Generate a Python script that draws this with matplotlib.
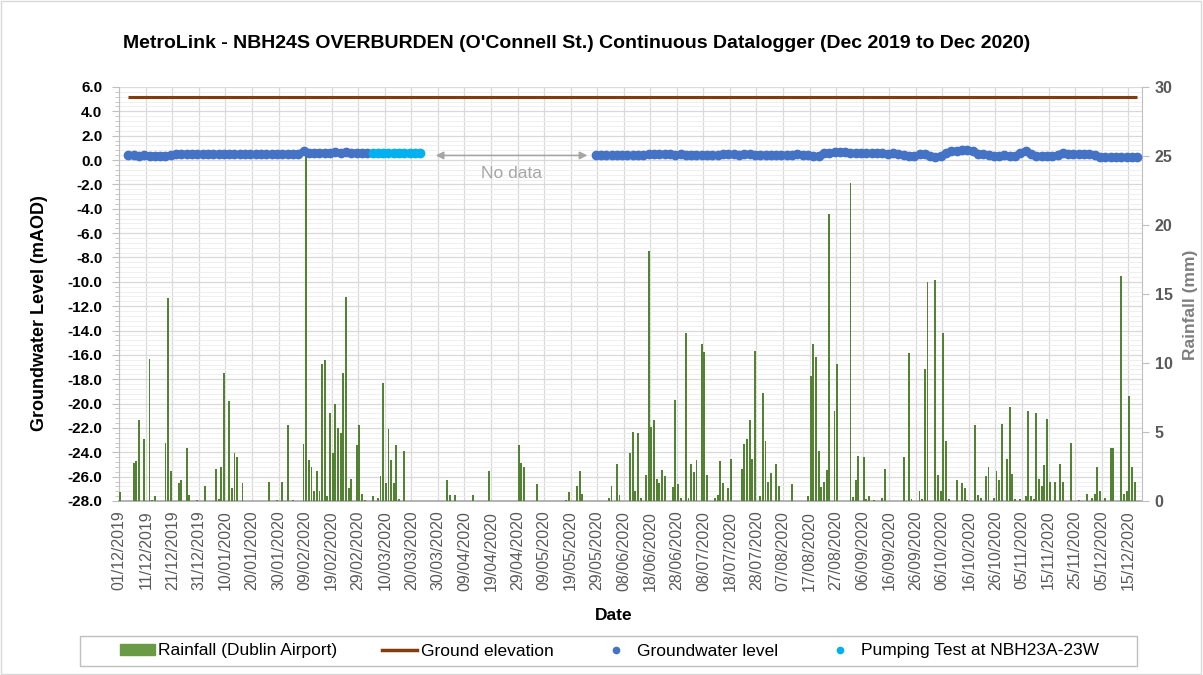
import matplotlib
matplotlib.use('Agg')
import matplotlib.pyplot as plt
import numpy as np
from matplotlib.lines import Line2D
from matplotlib.patches import Patch, Rectangle
from matplotlib.ticker import MultipleLocator, FuncFormatter

plt.rcParams['font.family'] = ['Liberation Sans', 'DejaVu Sans']
plt.rcParams['axes.unicode_minus'] = False

# ---------------- data (days counted from 01/12/2019) ----------------
rain_day = [0, 5, 6, 7, 9, 11, 12, 13, 17, 18, 19, 22, 23, 25, 26, 29, 32, 36, 37, 38,
            39, 41, 42, 43, 44, 46, 56, 59, 61, 63, 65, 69, 70, 71, 72, 73, 74, 75, 76, 77,
            78, 79, 80, 81, 82, 83, 84, 85, 86, 87, 89, 90, 91, 92, 95, 97, 98, 99, 100, 101,
            102, 103, 104, 105, 107, 123, 124, 126, 133, 139, 150, 151, 152, 157, 168, 169, 172, 173, 174, 184,
            185, 187, 188, 192, 193, 194, 195, 196, 198, 199, 200, 201, 202, 203, 204, 205, 208, 209, 210, 211,
            213, 214, 215, 216, 217, 219, 220, 221, 224, 225, 226, 227, 229, 230, 234, 235, 236, 237, 238, 239,
            241, 242, 243, 244, 245, 247, 248, 253, 259, 260, 261, 262, 263, 264, 265, 266, 267, 269, 270, 275,
            276, 277, 278, 280, 281, 282, 284, 287, 288, 295, 297, 298, 301, 302, 303, 304, 307, 308, 309, 310,
            311, 312, 315, 317, 318, 319, 322, 323, 324, 326, 327, 329, 330, 331, 332, 334, 335, 336, 337, 339,
            341, 342, 343, 344, 345, 346, 347, 348, 349, 350, 352, 354, 355, 358, 361, 364, 366, 367, 368, 369,
            371, 373, 374, 377, 378, 379, 380, 381, 382]
rain_mm = [0.65, 2.78, 2.87, 5.87, 4.52, 10.3, 0.05, 0.34, 4.23, 14.7, 2.17, 1.30, 1.50, 3.84, 0.43, 0.05, 1.11, 2.29, 0.14, 2.49,
           9.28, 7.25, 0.92, 3.45, 3.16, 1.30, 1.40, 0.05, 1.40, 5.48, 0.05, 4.13, 25.5, 2.97, 2.49, 0.72, 2.17, 0.72, 9.93, 10.2,
           0.34, 6.35, 3.45, 7.03, 5.29, 4.90, 9.28, 14.76, 0.92, 1.59, 4.03, 5.48, 0.53, 0.05, 0.34, 0.24, 1.79, 8.57, 1.30, 5.19,
           2.97, 1.30, 4.03, 0.14, 3.65, 1.50, 0.43, 0.43, 0.43, 2.17, 4.03, 2.78, 2.49, 1.21, 0.05, 0.63, 1.11, 2.17, 0.53, 0.24,
           1.11, 2.68, 0.43, 3.45, 5.00, 0.72, 4.90, 0.24, 1.88, 18.1, 5.39, 5.87, 1.59, 1.30, 2.27, 1.79, 1.01, 7.32, 1.21, 0.24,
           12.15, 0.24, 2.68, 2.08, 2.97, 11.38, 10.8, 1.88, 0.24, 0.43, 2.87, 1.30, 0.92, 3.07, 2.29, 4.13, 4.52, 5.87, 3.07, 10.9,
           0.34, 7.80, 4.32, 1.40, 2.00, 2.68, 1.11, 1.21, 0.34, 9.06, 11.38, 10.41, 3.65, 1.01, 1.40, 2.27, 20.8, 6.55, 9.93, 23.07,
           0.30, 1.50, 3.26, 3.16, 0.14, 0.34, 0.05, 0.24, 2.29, 3.16, 10.7, 0.14, 0.72, 0.14, 9.54, 15.85, 16.0, 1.88, 0.72, 12.15,
           4.32, 0.14, 1.50, 1.30, 0.92, 0.05, 5.48, 0.43, 0.24, 1.79, 2.49, 0.24, 2.17, 1.50, 5.58, 3.07, 6.84, 1.98, 0.14, 0.14,
           0.34, 6.55, 0.34, 0.14, 6.35, 1.59, 1.11, 2.58, 5.97, 1.40, 1.40, 2.68, 1.40, 4.23, 0.05, 0.53, 0.24, 0.53, 2.49, 0.72,
           0.24, 3.84, 3.84, 16.3, 0.53, 0.72, 7.61, 2.49, 1.40]

# groundwater level readings (mAOD), every 2nd day
gw1_day = np.arange(3, 94, 2)
gw1_level = [0.40, 0.38, 0.36, 0.38, 0.36,
             0.34, 0.36, 0.35, 0.40,
             0.48, 0.50, 0.52, 0.50, 0.52, 0.50, 0.52, 0.50, 0.50, 0.52, 0.50,
             0.48, 0.46, 0.48, 0.50, 0.48, 0.50, 0.48, 0.50, 0.52, 0.50, 0.52, 0.50, 0.52,
             0.72, 0.62, 0.60, 0.62, 0.60, 0.62, 0.64, 0.62, 0.64, 0.62, 0.60, 0.62, 0.58]
pump_day = np.arange(95, 114, 2)
pump_level = [0.55, 0.56, 0.55, 0.54, 0.55, 0.56, 0.55, 0.54, 0.55, 0.55]
gw2_day = np.arange(179, 384, 2)
gw2_level = [0.38, 0.38, 0.40, 0.38, 0.38, 0.40, 0.38, 0.40, 0.38, 0.40,
             0.50, 0.48, 0.50, 0.48, 0.46,
             0.44, 0.46, 0.44, 0.45, 0.44,
             0.42, 0.40, 0.42, 0.40, 0.46,
             0.48, 0.46, 0.45, 0.47, 0.46, 0.44, 0.45, 0.43, 0.42, 0.42, 0.44, 0.42, 0.43, 0.46, 0.45, 0.40, 0.30, 0.35,
             0.58, 0.62, 0.66, 0.65, 0.68, 0.62, 0.58, 0.58, 0.56, 0.55, 0.55, 0.56, 0.52, 0.54, 0.50,
             0.40, 0.32, 0.35, 0.48, 0.46, 0.32, 0.28, 0.35,
             0.58, 0.72, 0.78, 0.80, 0.82, 0.72,
             0.50, 0.46, 0.42, 0.35, 0.30, 0.42, 0.35, 0.30,
             0.60, 0.78, 0.50, 0.36, 0.32, 0.35, 0.30, 0.45,
             0.62, 0.52, 0.50, 0.50, 0.52, 0.48, 0.45,
             0.22, 0.25, 0.24, 0.26, 0.24, 0.23, 0.26, 0.28]
ground_elev_day = [3, 383]
ground_elev = [5.15, 5.15]

nodata_span = [119.2, 176.3]
nodata_level = 0.38

tick_labels = ['01/12/2019', '11/12/2019', '21/12/2019', '31/12/2019', '10/01/2020', '20/01/2020',
               '30/01/2020', '09/02/2020', '19/02/2020', '29/02/2020', '10/03/2020', '20/03/2020',
               '30/03/2020', '09/04/2020', '19/04/2020', '29/04/2020', '09/05/2020', '19/05/2020',
               '29/05/2020', '08/06/2020', '18/06/2020', '28/06/2020', '08/07/2020', '18/07/2020',
               '28/07/2020', '07/08/2020', '17/08/2020', '27/08/2020', '06/09/2020', '16/09/2020',
               '26/09/2020', '06/10/2020', '16/10/2020', '26/10/2020', '05/11/2020', '15/11/2020',
               '25/11/2020', '05/12/2020', '15/12/2020']

# ---------------- styling ----------------
OFFSET = 0.4  # daily values sit just right of the date tick
C_RAIN = '#548235'
C_GROUND = '#843C0C'
C_GW = '#4472C4'
C_PUMP = '#00B0F0'
C_GRID = '#D9D9D9'
C_TXT = '#595959'

W, H = 1203, 675
fig = plt.figure(figsize=(W / 100, H / 100), dpi=100)
fig.patch.set_facecolor('white')
fig.add_artist(Rectangle((0.001, 0.001), 0.997, 0.997, transform=fig.transFigure,
                         fill=False, edgecolor='#D9D9D9', lw=1))

pos = [119 / W, 1 - 501 / H, (1142 - 119) / W, (501 - 87) / H]
ax = fig.add_axes(pos)
ax2 = ax.twinx()
ax3 = ax.twinx()

XMIN, XMAX = -0.1, 385.2
for a in (ax, ax2, ax3):
    a.set_xlim(XMIN, XMAX)

# left axis (grid)
ax.set_ylim(-28, 6)
ax.yaxis.set_major_locator(MultipleLocator(2))
ax.yaxis.set_minor_locator(MultipleLocator(0.4))
ax.yaxis.set_major_formatter(FuncFormatter(lambda v, p: f'{v:.1f}'))
ax.grid(True, which='major', axis='y', color=C_GRID, lw=0.9)
ax.grid(True, which='minor', axis='y', color='#EFEFEF', lw=0.7)
ax.grid(True, which='major', axis='x', color=C_GRID, lw=0.9)
ax.set_axisbelow(True)
ax.set_xticks(np.arange(len(tick_labels)) * 10)
ax.set_xticklabels(tick_labels, rotation=90, fontsize=11.5, color=C_TXT)
ax.tick_params(axis='x', length=0, pad=7)
ax.tick_params(axis='y', which='major', length=5, color='#BFBFBF', labelsize=11, pad=7)
ax.tick_params(axis='y', which='minor', length=3, color='#BFBFBF')
for lbl in ax.get_yticklabels():
    lbl.set_fontweight('bold')
for s in ['top', 'right']:
    ax.spines[s].set_visible(False)
ax.spines['left'].set_color('#BFBFBF')
ax.spines['bottom'].set_color('#A6A6A6')
ax.spines['bottom'].set_linewidth(1.2)

# right axis: rainfall
ax2.bar(np.array(rain_day) + OFFSET, rain_mm, width=0.72, color=C_RAIN, lw=0)
ax2.set_ylim(0, 30)
ax2.yaxis.set_major_locator(MultipleLocator(5))
ax2.tick_params(axis='y', length=5, color='#BFBFBF', labelsize=11.5, labelcolor=C_TXT, pad=4)
for lbl in ax2.get_yticklabels():
    lbl.set_fontweight('bold')
for s in ['top', 'left', 'bottom']:
    ax2.spines[s].set_visible(False)
ax2.spines['right'].set_color('#BFBFBF')

# overlay axis: levels
ax3.set_ylim(-28, 6)
ax3.axis('off')
ax3.plot(np.array(ground_elev_day) + OFFSET, ground_elev, color=C_GROUND, lw=2.2, solid_capstyle='butt')
for d, v, c in ((gw1_day, gw1_level, C_GW), (gw2_day, gw2_level, C_GW), (pump_day, pump_level, C_PUMP)):
    ax3.plot(d + OFFSET, v, ls='-', lw=4.5, marker='o', ms=6, color=c, mec=c,
             solid_capstyle='round', solid_joinstyle='round')
ax3.annotate('', xy=(nodata_span[1], nodata_level), xytext=(nodata_span[0], nodata_level),
             arrowprops=dict(arrowstyle='<|-|>', color='#A6A6A6', lw=1.2, mutation_scale=11,
                             shrinkA=0, shrinkB=0))
ax3.text((nodata_span[0] + nodata_span[1]) / 2, -1.1, 'No data', color='#A6A6A6',
         fontsize=12.5, ha='center', va='center')

# titles and labels
fig.text(577 / W, 1 - 43 / H,
         "MetroLink - NBH24S OVERBURDEN (O'Connell St.) Continuous Datalogger (Dec 2019 to Dec 2020)",
         fontsize=14, fontweight='bold', ha='center', va='center')
fig.text(40 / W, 1 - 313 / H, 'Groundwater Level (mAOD)', rotation=90, fontsize=13,
         fontweight='bold', ha='center', va='center')
fig.text(1190 / W, 1 - 305 / H, 'Rainfall (mm)', rotation=90, fontsize=12.5,
         fontweight='bold', ha='center', va='center', color='#7F7F7F')
fig.text(614 / W, 1 - 615 / H, 'Date', fontsize=12.5, fontweight='bold', ha='center', va='center')

# legend
fig.add_artist(Rectangle((80 / W, 1 - 666 / H), (1137 - 80) / W, 30 / H, transform=fig.transFigure,
                         fill=False, edgecolor='#BFBFBF', lw=1))
handles = [Patch(facecolor='#6A9A45', edgecolor='#6A9A45'),
           Line2D([], [], color=C_GROUND, lw=2.5),
           Line2D([], [], ls='none', marker='o', ms=4.5, color=C_GW),
           Line2D([], [], ls='none', marker='o', ms=4.5, color=C_PUMP)]
labels = ['Rainfall (Dublin Airport)', 'Ground elevation', 'Groundwater level', 'Pumping Test at NBH23A-23W']
fig.legend(handles, labels, loc='center left', ncol=4, frameon=False,
           bbox_to_anchor=(120 / W, 1 - 651 / H),
           fontsize=12.5, handlelength=2.0, handleheight=0.6, handletextpad=0.2,
           columnspacing=2.6, borderaxespad=0, borderpad=0)

fig.savefig('out.png', dpi=100)
